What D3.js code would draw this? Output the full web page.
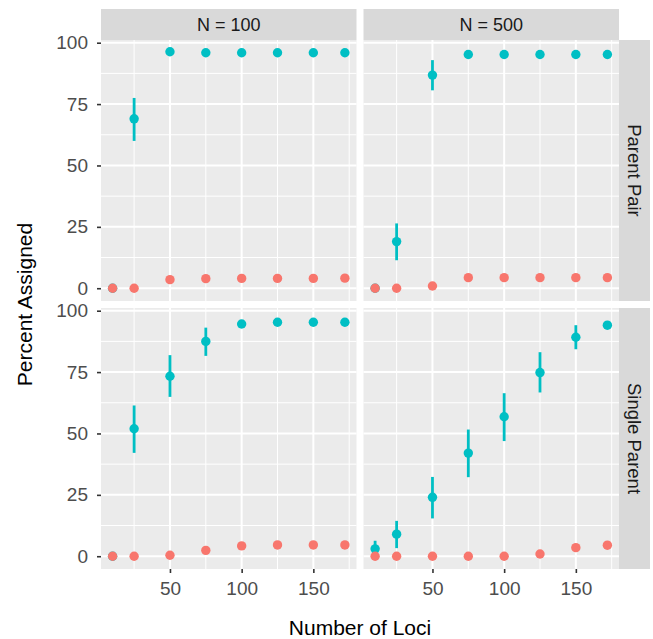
<!DOCTYPE html>
<html>
<head>
<meta charset="utf-8">
<script src="https://cdnjs.cloudflare.com/ajax/libs/d3/7.8.5/d3.min.js"></script>
<style>
  body { margin: 0; background: #fff; }
  text { font-family: "Liberation Sans", Arial, sans-serif; }
</style>
</head>
<body>
<svg id="chart" width="653" height="639"></svg>
<script>
// data
const loci = [10, 25, 50, 75, 100, 125, 150, 172]
const sampleSizes = ["N = 100", "N = 500"]
const assignTypes = ["Parent Pair", "Single Parent"]

const yTicks = [0, 25, 50, 75, 100]
const xTicks = [50, 100, 150]
const yLimits = [-5.2, 101.1]
const xLimits = [1.9, 180.1]

// Parent Pair, N = 100
const pp100Correct = [0, 69, 96.3, 95.9, 95.9, 95.9, 95.9, 95.9]
const pp100Lo = [0, 60, 95.6, 95.2, 95.2, 95.2, 95.2, 95.2]
const pp100Hi = [0, 77.5, 97, 96.6, 96.6, 96.6, 96.6, 96.6]
const pp100Wrong = [0, 0, 3.5, 3.9, 4.0, 4.0, 4.0, 4.1]

// Parent Pair, N = 500
const pp500Correct = [0, 19.0, 86.8, 95.2, 95.2, 95.2, 95.2, 95.2]
const pp500Lo = [0, 11.4, 80.6, 94.5, 94.5, 94.5, 94.5, 94.5]
const pp500Hi = [0, 26.4, 92.9, 95.9, 95.9, 95.9, 95.9, 95.9]
const pp500Wrong = [0, 0, 0.9, 4.3, 4.3, 4.3, 4.3, 4.3]

// Single Parent, N = 100
const sp100Correct = [0, 51.9, 73.3, 87.5, 94.6, 95.3, 95.3, 95.3]
const sp100Lo = [0, 42.1, 64.9, 81.6, 94.0, 94.7, 94.7, 94.7]
const sp100Hi = [0, 61.4, 81.9, 93.1, 95.2, 95.9, 95.9, 95.9]
const sp100Wrong = [0, 0, 0.4, 2.4, 4.2, 4.6, 4.6, 4.6]

// Single Parent, N = 500
const sp500Correct = [3.0, 9.0, 24.0, 42.0, 56.8, 74.8, 89.2, 94.1]
const sp500Lo = [-0.1, 3.3, 15.4, 32.2, 46.9, 66.7, 84.3, 93.5]
const sp500Hi = [6.3, 14.4, 32.3, 51.6, 66.4, 83.1, 94.1, 94.7]
const sp500Wrong = [0, 0, 0, 0, 0, 0.9, 3.5, 4.5]

const panels = [
  {row: 0, col: 0, correct: pp100Correct, lo: pp100Lo, hi: pp100Hi, wrong: pp100Wrong},
  {row: 0, col: 1, correct: pp500Correct, lo: pp500Lo, hi: pp500Hi, wrong: pp500Wrong},
  {row: 1, col: 0, correct: sp100Correct, lo: sp100Lo, hi: sp100Hi, wrong: sp100Wrong},
  {row: 1, col: 1, correct: sp500Correct, lo: sp500Lo, hi: sp500Hi, wrong: sp500Wrong}
]

const tealColor = '#00BFC4'
const salmonColor = '#F8766D'

// layout
const marginLeft = 101, marginTop = 40
const panelW = 255.5, panelH = 261, gap = 7
const stripSize = 31

const svg = d3.select('#chart')

const x = d3.scaleLinear().domain(xLimits).range([0, panelW])
const y = d3.scaleLinear().domain(yLimits).range([panelH, 0])

const xMinor = [25, 75, 125, 175]
const yMinor = [12.5, 37.5, 62.5, 87.5]

panels.forEach(p => {
  const px = marginLeft + p.col * (panelW + gap)
  const py = marginTop + p.row * (panelH + gap)
  const g = svg.append('g').attr('transform', `translate(${px},${py})`)

  g.append('rect').attr('width', panelW).attr('height', panelH).attr('fill', '#EBEBEB')

  // grid
  g.selectAll('.ymin').data(yMinor).enter().append('line')
    .attr('x1', 0).attr('x2', panelW)
    .attr('y1', d => y(d)).attr('y2', d => y(d))
    .attr('stroke', '#fff').attr('stroke-width', 1)
  g.selectAll('.xmin').data(xMinor).enter().append('line')
    .attr('y1', 0).attr('y2', panelH)
    .attr('x1', d => x(d)).attr('x2', d => x(d))
    .attr('stroke', '#fff').attr('stroke-width', 1)
  g.selectAll('.ymaj').data(yTicks).enter().append('line')
    .attr('x1', 0).attr('x2', panelW)
    .attr('y1', d => y(d)).attr('y2', d => y(d))
    .attr('stroke', '#fff').attr('stroke-width', 2)
  g.selectAll('.xmaj').data(xTicks).enter().append('line')
    .attr('y1', 0).attr('y2', panelH)
    .attr('x1', d => x(d)).attr('x2', d => x(d))
    .attr('stroke', '#fff').attr('stroke-width', 2)

  const pts = loci.map((l, i) => ({l, c: p.correct[i], lo: p.lo[i], hi: p.hi[i], w: p.wrong[i]}))

  // error bars + points for correct assignment
  g.selectAll('.err').data(pts).enter().append('line')
    .attr('x1', d => x(d.l)).attr('x2', d => x(d.l))
    .attr('y1', d => y(d.lo)).attr('y2', d => y(d.hi))
    .attr('stroke', tealColor).attr('stroke-width', 2.8)
  g.selectAll('.pc').data(pts).enter().append('circle')
    .attr('cx', d => x(d.l)).attr('cy', d => y(d.c)).attr('r', 4.7)
    .attr('fill', tealColor)
  g.selectAll('.pw').data(pts).enter().append('circle')
    .attr('cx', d => x(d.l)).attr('cy', d => y(d.w)).attr('r', 4.7)
    .attr('fill', salmonColor)

  // y axis on the left column
  if (p.col === 0) {
    const ya = g.append('g').call(d3.axisLeft(y).tickValues(yTicks).tickSize(4).tickPadding(9))
    ya.select('.domain').remove()
    ya.selectAll('line').attr('stroke', '#333').attr('stroke-width', 1.6)
    ya.selectAll('text').attr('fill', '#4D4D4D').attr('font-size', 19)
      .style('font-family', '"Liberation Sans", Arial, sans-serif')
  }
  // x axis on the bottom row
  if (p.row === 1) {
    const xa = g.append('g').attr('transform', `translate(0,${panelH})`)
      .call(d3.axisBottom(x).tickValues(xTicks).tickSize(4).tickPadding(9))
    xa.select('.domain').remove()
    xa.selectAll('line').attr('stroke', '#333').attr('stroke-width', 1.6)
    xa.selectAll('text').attr('fill', '#4D4D4D').attr('font-size', 19)
      .style('font-family', '"Liberation Sans", Arial, sans-serif')
  }
})

// top strips
sampleSizes.forEach((s, i) => {
  const sx = marginLeft + i * (panelW + gap)
  svg.append('rect').attr('x', sx).attr('y', marginTop - stripSize)
    .attr('width', panelW).attr('height', stripSize).attr('fill', '#D9D9D9')
  svg.append('text').attr('x', sx + panelW / 2).attr('y', marginTop - stripSize / 2)
    .attr('text-anchor', 'middle').attr('dominant-baseline', 'central')
    .attr('font-size', 18).attr('fill', '#1A1A1A').text(s)
})

// right strips
const stripX = marginLeft + 2 * panelW + gap
assignTypes.forEach((t, i) => {
  const sy = marginTop + i * (panelH + gap)
  svg.append('rect').attr('x', stripX).attr('y', sy)
    .attr('width', stripSize).attr('height', panelH).attr('fill', '#D9D9D9')
  svg.append('text')
    .attr('transform', `translate(${stripX + stripSize / 2},${sy + panelH / 2}) rotate(90)`)
    .attr('text-anchor', 'middle').attr('dominant-baseline', 'central')
    .attr('font-size', 18.5).attr('fill', '#1A1A1A').text(t)
})

// axis titles
svg.append('text')
  .attr('x', marginLeft + panelW + gap / 2).attr('y', 635)
  .attr('text-anchor', 'middle').attr('font-size', 21).attr('fill', '#000')
  .text('Number of Loci')

svg.append('text')
  .attr('transform', `translate(32,${marginTop + panelH + gap / 2}) rotate(-90)`)
  .attr('text-anchor', 'middle').attr('font-size', 21).attr('fill', '#000')
  .text('Percent Assigned')
</script>
</body>
</html>
